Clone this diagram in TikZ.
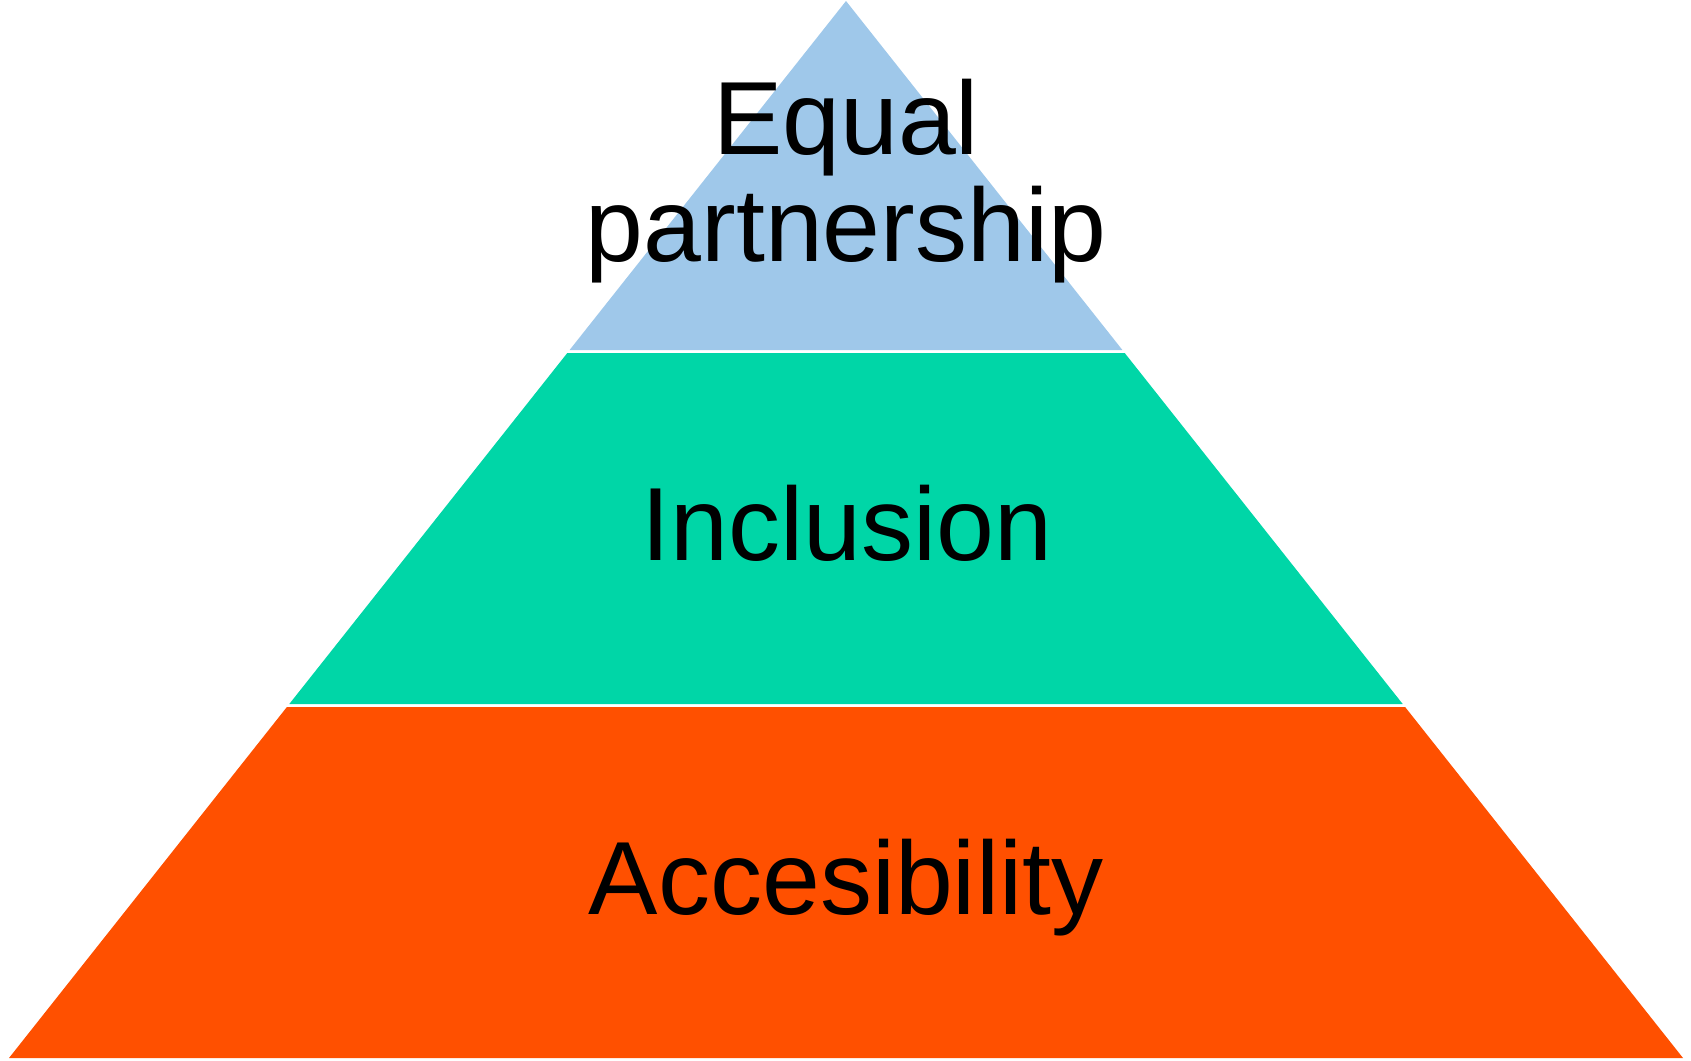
\documentclass[tikz,border=0pt]{standalone}
\usepackage{fontspec}
\setmainfont{Liberation Sans}
\definecolor{topblue}{RGB}{159,200,234}
\definecolor{midgreen}{RGB}{0,214,167}
\definecolor{botorange}{RGB}{255,80,0}
\begin{document}
\begin{tikzpicture}[x=1pt,y=-1pt,
  label/.style={inner sep=0pt, anchor=base, font=\fontsize{104}{107.4}\selectfont, text=black},
  tier/.style={draw=none}]
\useasboundingbox (0,0) rectangle (1691,1060);
% tiers
\fill[topblue]   (846,1) -- (1122.4,350) -- (569.6,350) -- cycle;
\fill[midgreen]  (567.3,353) -- (1124.7,353) -- (1402.7,704) -- (289.3,704) -- cycle;
\fill[botorange] (286.9,707) -- (1405.1,707) -- (1683,1058) -- (9,1058) -- cycle;
% labels
\node[label] (equal) at (846,154.3) {Equal};
\node[label] (partner) at (846,261.7) {partnership};
\node[label] (incl) at (847,560.7) {Inclusion};
\node[label] (acc) at (846,914.3) {Accesibility};
\end{tikzpicture}
\end{document}
